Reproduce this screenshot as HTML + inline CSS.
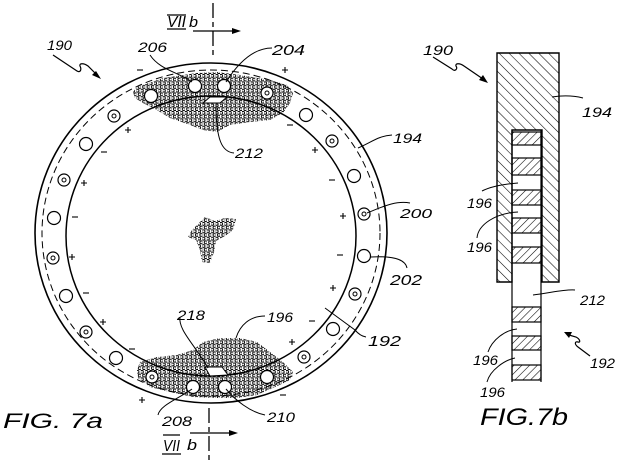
<!DOCTYPE html>
<html><head><meta charset="utf-8"><style>
html,body{margin:0;padding:0;background:#fff;}
svg{display:block;}
text{font-family:"Liberation Sans",sans-serif;font-style:italic;fill:#000;}
</style></head><body>
<svg width="617" height="461" viewBox="0 0 617 461" xmlns="http://www.w3.org/2000/svg">
<defs>
<pattern id="sp" width="4.4" height="7.4" patternUnits="userSpaceOnUse">
<circle cx="1.1" cy="1.85" r="1.45" fill="none" stroke="#000" stroke-width="1"/>
<circle cx="3.3" cy="5.55" r="1.45" fill="none" stroke="#000" stroke-width="1"/>
</pattern>
<pattern id="hb" width="7" height="7" patternUnits="userSpaceOnUse" patternTransform="rotate(-45)">
<line x1="0" y1="0" x2="0" y2="7" stroke="#000" stroke-width="1.1"/>
</pattern>
<pattern id="hs" width="5.5" height="5.5" patternUnits="userSpaceOnUse" patternTransform="rotate(45)">
<line x1="0" y1="0" x2="0" y2="5.5" stroke="#000" stroke-width="1.1"/>
</pattern>
</defs>

<!-- speckle regions -->
<path d="M133,92 L137,87 L163,78 L197,73 L217,72 L240,75 L270,80 L287,85 L293,93 L290,103 L283,113 L270,120 L250,122 L230,125 L217,132 L203,130 L190,125 L170,118 L157,110 L143,103 L135,98 Z" fill="url(#sp)"/>
<path d="M137,370 L140,362 L157,357 L177,355 L193,350 L203,342 L220,338 L240,338 L257,342 L270,352 L283,362 L293,372 L290,380 L273,388 L257,395 L237,398 L213,398 L193,397 L170,392 L150,387 L138,378 Z" fill="url(#sp)"/>
<path d="M205,217 L215,221 L225,218 L236,219 L233,230 L225,236 L216,241 L214,252 L210,263 L202,262 L200,250 L196,240 L188,237 L192,230 L198,224 Z" fill="url(#sp)"/>

<!-- main rings -->
<ellipse cx="211" cy="233" rx="176" ry="170" fill="none" stroke="#000" stroke-width="1.6"/>
<ellipse cx="211" cy="233" rx="169" ry="163" fill="none" stroke="#000" stroke-width="1" stroke-dasharray="7,4"/>
<ellipse cx="211" cy="236" rx="145" ry="140" fill="none" stroke="#000" stroke-width="1.5"/>

<!-- small parallelograms -->
<path d="M203,103 L210,97 L227,97 L220,103 Z" fill="#fff" stroke="#000" stroke-width="1"/>
<path d="M205,367 L222,367 L228,375 L210,376 Z" fill="#fff" stroke="#000" stroke-width="1"/>

<!-- holes -->
<g fill="#fff" stroke="#000" stroke-width="1.2">
<circle cx="151" cy="96" r="6.5"/><circle cx="195" cy="86" r="6.5"/><circle cx="224" cy="86" r="6.5"/>
<circle cx="306" cy="115" r="6.5"/><circle cx="354" cy="176" r="6.5"/><circle cx="364" cy="256" r="6.5"/>
<circle cx="333" cy="329" r="6.5"/><circle cx="267" cy="377" r="6.5"/><circle cx="225" cy="387" r="6.5"/>
<circle cx="193" cy="387" r="6.5"/><circle cx="116" cy="358" r="6.5"/><circle cx="66" cy="296" r="6.5"/>
<circle cx="54" cy="218" r="6.5"/><circle cx="86" cy="144" r="6.5"/>
<circle cx="267" cy="93" r="6"/><circle cx="332" cy="141" r="6"/><circle cx="364" cy="214" r="6"/>
<circle cx="355" cy="294" r="6"/><circle cx="304" cy="357" r="6"/><circle cx="152" cy="377" r="6"/>
<circle cx="86" cy="332" r="6"/><circle cx="53" cy="258" r="6"/><circle cx="64" cy="180" r="6"/>
<circle cx="114" cy="116" r="6"/>
</g>
<g fill="none" stroke="#000" stroke-width="1">
<circle cx="267" cy="93" r="2"/><circle cx="332" cy="141" r="2"/><circle cx="364" cy="214" r="2"/>
<circle cx="355" cy="294" r="2"/><circle cx="304" cy="357" r="2"/><circle cx="152" cy="377" r="2"/>
<circle cx="86" cy="332" r="2"/><circle cx="53" cy="258" r="2"/><circle cx="64" cy="180" r="2"/>
<circle cx="114" cy="116" r="2"/>
</g>

<!-- plus / minus signs -->
<g stroke="#000" stroke-width="1.1">
<line x1="137" y1="70" x2="143" y2="70"/><line x1="287" y1="125" x2="293" y2="125"/>
<line x1="101" y1="152" x2="107" y2="152"/><line x1="329" y1="180" x2="335" y2="180"/>
<line x1="72" y1="217" x2="78" y2="217"/><line x1="337" y1="255" x2="343" y2="255"/>
<line x1="83" y1="293" x2="89" y2="293"/><line x1="309" y1="321" x2="315" y2="321"/>
<line x1="129" y1="349" x2="135" y2="349"/><line x1="280" y1="395" x2="286" y2="395"/>
<path d="M282,70 h6 M285,67 v6 M125,130 h6 M128,127 v6 M312,150 h6 M315,147 v6 M81,183 h6 M84,180 v6 M340,216 h6 M343,213 v6 M69,257 h6 M72,254 v6 M330,288 h6 M333,285 v6 M100,322 h6 M103,319 v6 M289,342 h6 M292,339 v6 M139,400 h6 M142,397 v6"/>
</g>

<!-- section lines -->
<g stroke="#000" stroke-width="1.3" fill="none">
<line x1="213" y1="3" x2="213" y2="58" stroke-dasharray="15,4,5,4"/>
<line x1="193" y1="31" x2="234" y2="31"/>
<line x1="209" y1="408" x2="209" y2="461" stroke-dasharray="15,4,5,4"/>
<line x1="190" y1="433" x2="231" y2="433"/>
<line x1="167" y1="15" x2="186" y2="15"/><line x1="167" y1="29" x2="186" y2="29"/>
<line x1="163" y1="435" x2="180" y2="435"/><line x1="162" y1="454" x2="181" y2="454"/>
</g>
<path d="M241,31 L232,28 L232,34 Z" fill="#000"/>
<path d="M238,433 L229,430 L229,436 Z" fill="#000"/>

<!-- leaders left -->
<g fill="none" stroke="#000" stroke-width="1">
<path d="M150,55 C160,70 178,72 192,82"/>
<path d="M272,48 C255,48 240,60 226,82"/>
<path d="M234,153 C222,152 216,140 216,104"/>
<path d="M392,135 C378,136 372,142 358,148"/>
<path d="M410,203 C395,200 380,208 367,213"/>
<path d="M371,257 C390,256 405,258 407,268"/>
<path d="M325,308 L355,330 Q360,336 366,337"/>
<path d="M265,316 C250,316 240,325 236,338"/>
<path d="M180,317 C178,330 195,345 208,368"/>
<path d="M158,415 C160,405 180,398 192,389"/>
<path d="M265,415 C250,412 235,400 226,389"/>
<path d="M53,55 L77,71 C80,73 82,70 80,66 C79,63 84,63 88,66 L97,75" stroke-width="1.2"/>
</g>
<path d="M101,79 L92,75 L96,71 Z" fill="#000"/>

<!-- labels left -->
<text x="47" y="50" font-size="14" textLength="25" lengthAdjust="spacingAndGlyphs">190</text>
<text x="138" y="52" font-size="14" textLength="29" lengthAdjust="spacingAndGlyphs">206</text>
<text x="272" y="55" font-size="15" textLength="33" lengthAdjust="spacingAndGlyphs">204</text>
<text x="235" y="158" font-size="14" textLength="28" lengthAdjust="spacingAndGlyphs">212</text>
<text x="393" y="143" font-size="14" textLength="29" lengthAdjust="spacingAndGlyphs">194</text>
<text x="400" y="218" font-size="13" textLength="32" lengthAdjust="spacingAndGlyphs">200</text>
<text x="390" y="285" font-size="15" textLength="32" lengthAdjust="spacingAndGlyphs">202</text>
<text x="368" y="346" font-size="15" textLength="33" lengthAdjust="spacingAndGlyphs">192</text>
<text x="267" y="322" font-size="14" textLength="26" lengthAdjust="spacingAndGlyphs">196</text>
<text x="177" y="320" font-size="14" textLength="28" lengthAdjust="spacingAndGlyphs">218</text>
<text x="162" y="426" font-size="14" textLength="30" lengthAdjust="spacingAndGlyphs">208</text>
<text x="267" y="422" font-size="14" textLength="28" lengthAdjust="spacingAndGlyphs">210</text>
<text x="167" y="27" font-size="16" font-style="normal" textLength="19" lengthAdjust="spacingAndGlyphs">VII</text>
<text x="189" y="27" font-size="15" textLength="9" lengthAdjust="spacingAndGlyphs">b</text>
<text x="163" y="451" font-size="16" font-style="normal" textLength="17" lengthAdjust="spacingAndGlyphs">VII</text>
<text x="187" y="450" font-size="15" textLength="10" lengthAdjust="spacingAndGlyphs">b</text>
<text x="3" y="428" font-size="21" textLength="100" lengthAdjust="spacingAndGlyphs">FIG. 7a</text>

<!-- right figure -->
<path d="M497,53 L559,53 L559,282 L542,282 L542,130 L512,130 L512,282 L497,282 Z" fill="url(#hb)" stroke="#000" stroke-width="1.4"/>
<g stroke="#000" stroke-width="1.2">
<rect x="512" y="132" width="29" height="13" fill="url(#hs)"/>
<rect x="512" y="158" width="29" height="17" fill="url(#hs)"/>
<rect x="512" y="190" width="29" height="15" fill="url(#hs)"/>
<rect x="512" y="218" width="29" height="15" fill="url(#hs)"/>
<rect x="512" y="247" width="29" height="16" fill="url(#hs)"/>
<rect x="512" y="307" width="29" height="15" fill="url(#hs)"/>
<rect x="512" y="336" width="29" height="14" fill="url(#hs)"/>
<rect x="512" y="365" width="29" height="15" fill="url(#hs)"/>
<line x1="512" y1="130" x2="512" y2="382"/>
<line x1="541" y1="130" x2="541" y2="382"/>
</g>
<g fill="none" stroke="#000" stroke-width="1">
<path d="M552,97 C565,95 575,96 583,98"/>
<path d="M482,191 C492,186 505,184 518,183"/>
<path d="M477,238 C478,225 495,213 518,212"/>
<path d="M533,295 C550,293 565,289 575,290"/>
<path d="M488,352 C492,340 505,330 517,329"/>
<path d="M487,382 C490,370 505,360 515,358"/>
<path d="M433,57 L452,69 C455,72 458,69 456,66 C455,63 460,63 464,66 L483,79" stroke-width="1.2"/>
<path d="M590,356 L578,347 C574,344 575,341 578,342 C581,343 580,339 576,337 L569,335" stroke-width="1.2"/>
</g>
<path d="M488,83 L479,80 L483,75 Z" fill="#000"/>
<path d="M564,332 L572,332 L569,338 Z" fill="#000"/>
<text x="423" y="55" font-size="14" textLength="30" lengthAdjust="spacingAndGlyphs">190</text>
<text x="582" y="117" font-size="14" textLength="30" lengthAdjust="spacingAndGlyphs">194</text>
<text x="467" y="208" font-size="14" textLength="25" lengthAdjust="spacingAndGlyphs">196</text>
<text x="467" y="252" font-size="14" textLength="25" lengthAdjust="spacingAndGlyphs">196</text>
<text x="580" y="305" font-size="14" textLength="25" lengthAdjust="spacingAndGlyphs">212</text>
<text x="590" y="368" font-size="14" textLength="25" lengthAdjust="spacingAndGlyphs">192</text>
<text x="473" y="365" font-size="14" textLength="25" lengthAdjust="spacingAndGlyphs">196</text>
<text x="480" y="397" font-size="14" textLength="25" lengthAdjust="spacingAndGlyphs">196</text>
<text x="480" y="425" font-size="24" textLength="88" lengthAdjust="spacingAndGlyphs">FIG.7b</text>
</svg>
</body></html>
